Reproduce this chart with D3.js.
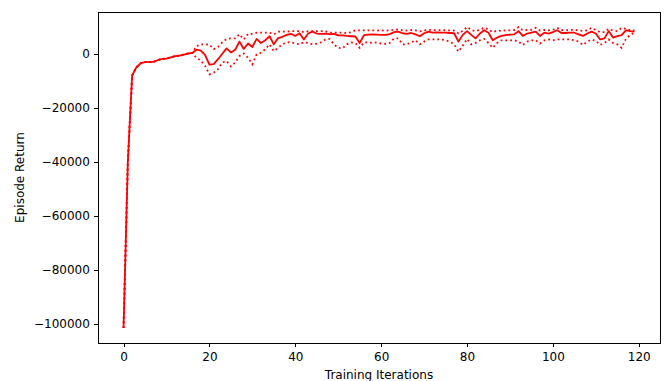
<!DOCTYPE html>
<html>
<head>
<meta charset="utf-8">
<script src="https://d3js.org/d3.v7.min.js"></script>
<style>
  body { margin: 0; background: #fff; }
  .axis text { font-family: "DejaVu Sans", sans-serif; font-size: 12px; fill: #000; }
  .axis path, .axis line { stroke: #000; stroke-width: 1; shape-rendering: crispEdges; }
  .label { font-family: "DejaVu Sans", sans-serif; font-size: 12px; fill: #000; }
</style>
</head>
<body>
<script>
// episode return per training iteration (mean, and upper / lower band)
var meanReturn = [
  -101500, -40000, -8000, -5000, -3500, -3100, -3000, -3000, -2300, -1900,
  -1800, -1300, -900, -700, -300, 100, 300, 1500, 1200, -500,
  -4000, -3800, -2000, 0, 2000, 500, 1500, 4500, 1800, 3800,
  2500, 5500, 4000, 5000, 6500, 3500, 5800, 6300, 7000, 7400,
  6600, 7600, 5300, 7500, 8200, 7500, 7400, 7500, 7300, 7400,
  6800, 6800, 6600, 6500, 6400, 4000, 6900, 7100, 7200, 7100,
  7000, 7000, 7300, 8000, 8200, 7600, 7400, 7700, 7200, 6500,
  7600, 8200, 7800, 7900, 7800, 7800, 7700, 7600, 4500, 7000,
  8400, 7000, 5700, 7500, 8700, 7800, 5000, 6000, 6600, 6900,
  7100, 7200, 8400, 6600, 7500, 7800, 8200, 6600, 7800, 7500,
  8000, 8700, 7700, 7700, 7800, 7800, 7200, 6600, 7500, 8200,
  7500, 5300, 5700, 8400, 6000, 6500, 6900, 8700, 8400, 8200
];
var upperReturn = [
  -101500, -40000, -8000, -5000, -3500, -3100, -3000, -3000, -2300, -1900,
  -1800, -1300, -900, -700, -300, 100, 300, 2800, 3500, 3500,
  3400, 1700, 2500, 4200, 5500, 5700, 5700, 7200, 5300, 7400,
  7400, 7800, 7800, 7800, 7800, 7200, 8200, 8200, 8200, 8400,
  8400, 8400, 8000, 8400, 8400, 8400, 8400, 8400, 7800, 7800,
  7800, 7800, 7600, 8000, 8700, 8700, 8700, 8700, 8700, 8600,
  8700, 8500, 8700, 8900, 9000, 8700, 8600, 8800, 8700, 8300,
  8600, 8900, 8800, 8700, 8800, 8700, 8700, 8600, 7500, 8500,
  9900, 8800, 8400, 8800, 9700, 9000, 8000, 8600, 8500, 8700,
  8700, 8800, 9900, 8700, 8800, 8900, 9600, 8600, 8800, 8700,
  8900, 9600, 8800, 8700, 8800, 8900, 8600, 8500, 8700, 9600,
  8800, 8000, 8000, 9200, 8600, 8400, 9600, 9200, 8800, 8700
];
var lowerReturn = [
  -101500, -40000, -8000, -5000, -3500, -3100, -3000, -3000, -2300, -1900,
  -1800, -1300, -900, -700, -300, 100, 300, -1500, -2500, -4500,
  -7600, -7000, -5700, -3200, -2700, -4700, -3200, -800, 100, -1500,
  -3900, -200, 400, 1650, 3500, 1000, 2200, 3500, 4200, 4300,
  3800, 3500, 4300, 4000, 3500, 3800, 4200, 5300, 5500, 3500,
  2200, 2000, 3500, 4200, 4000, 2200, 4200, 4200, 4000, 4200,
  3800, 3700, 4000, 5700, 5700, 3500, 3500, 4200, 5000, 3500,
  4500, 5300, 5300, 5300, 5300, 5000, 4500, 3500, 800, 3000,
  5500, 3500, 4000, 5000, 5500, 4000, 2200, 4000, 5000, 5000,
  5000, 5000, 4500, 3300, 4500, 5000, 5000, 3800, 5000, 5300,
  5000, 5300, 5300, 5300, 5300, 5000, 4500, 3300, 4500, 5300,
  4800, 3300, 4000, 5300, 4000, 3500, 2200, 5500, 7000, 7800
];
var xTicks = [0, 20, 40, 60, 80, 100, 120];
var yTicks = [-100000, -80000, -60000, -40000, -20000, 0];

var width = 667, height = 381;
var margin = {top: 12, right: 7, bottom: 38, left: 98};
var w = width - margin.left - margin.right;
var h = height - margin.top - margin.bottom;

var svg = d3.select("body").append("svg")
  .attr("width", width).attr("height", height);
var g = svg.append("g")
  .attr("transform", "translate(" + margin.left + "," + margin.top + ")");

var n = meanReturn.length;
var xPad = (n - 1) * 0.05;
var x = d3.scaleLinear().domain([-xPad, n - 1 + xPad]).range([0, w]);

var allVals = meanReturn.concat(upperReturn, lowerReturn);
var yMin = d3.min(allVals), yMax = d3.max(allVals);
var yPad = (yMax - yMin) * 0.05;
var y = d3.scaleLinear().domain([yMin - yPad, yMax + yPad]).range([h, 0]);

var line = d3.line()
  .x(function(d, i) { return x(i); })
  .y(function(d) { return y(d); });

g.append("path").datum(upperReturn)
  .attr("fill", "none").attr("stroke", "#ff0000")
  .attr("stroke-width", 1.8).attr("stroke-dasharray", "1.8,2.97")
  .attr("d", line);
g.append("path").datum(lowerReturn)
  .attr("fill", "none").attr("stroke", "#ff0000")
  .attr("stroke-width", 1.8).attr("stroke-dasharray", "1.8,2.97")
  .attr("d", line);
g.append("path").datum(meanReturn)
  .attr("fill", "none").attr("stroke", "#ff0000")
  .attr("stroke-width", 1.8).attr("stroke-linejoin", "round")
  .attr("d", line);

var xAxis = d3.axisBottom(x).tickValues(xTicks).tickSize(4.2).tickPadding(5.5)
  .tickFormat(d3.format("d"));
var yAxis = d3.axisLeft(y).tickValues(yTicks).tickSize(4.2).tickPadding(4)
  .tickFormat(d3.format("d"));

g.append("g").attr("class", "axis")
  .attr("transform", "translate(0," + h + ")")
  .call(xAxis);
g.append("g").attr("class", "axis").call(yAxis);

g.selectAll(".axis .domain").remove();

// frame
g.append("rect")
  .attr("x", 0.5).attr("y", 0.5).attr("width", w).attr("height", h)
  .attr("fill", "none").attr("stroke", "#000").attr("stroke-width", 1)
  .attr("shape-rendering", "crispEdges");

svg.append("text").attr("class", "label")
  .attr("x", margin.left + w / 2).attr("y", 379)
  .attr("text-anchor", "middle")
  .text("Training Iterations");

svg.append("text").attr("class", "label")
  .attr("transform", "translate(24," + (margin.top + h / 2) + ") rotate(-90)")
  .attr("text-anchor", "middle")
  .text("Episode Return");
</script>
</body>
</html>
